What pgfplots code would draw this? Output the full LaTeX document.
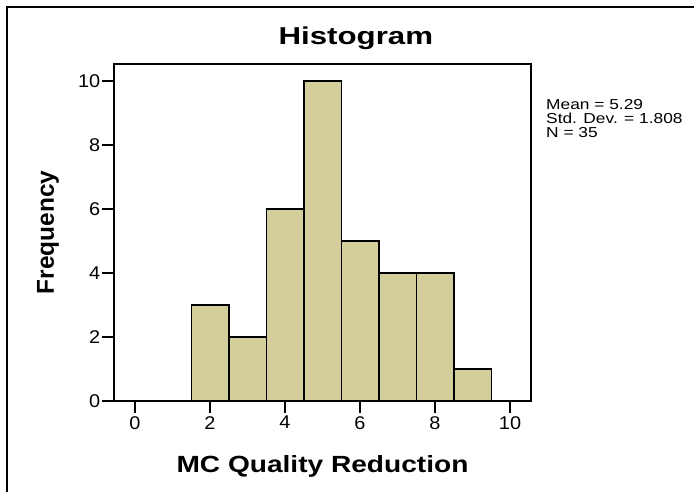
\documentclass[border=0pt]{standalone}
\usepackage{fontspec}
\setmainfont{Liberation Sans}
\newfontfamily\titlefont[FakeStretch=1.28]{Liberation Sans}
\newfontfamily\xlabfont[FakeStretch=1.2]{Liberation Sans}
\newfontfamily\tickfont[FakeStretch=1.08]{Liberation Sans}
\newfontfamily\statfont[FakeStretch=1.2]{Liberation Sans}
\usepackage{pgfplots}
\pgfplotsset{compat=1.18}
\definecolor{barfill}{RGB}{211,206,155}
\tikzset{stat/.style={anchor=base west, inner sep=0pt, text height=10.5bp, text depth=2bp,
  font=\statfont\fontsize{14.5}{16}\selectfont}}

\begin{document}
\begin{tikzpicture}
\useasboundingbox (0,0) rectangle (694bp,492bp);
% outer frame (left and top only)
\draw[line width=2bp] (7bp,0) -- (7bp,485bp) -- (694bp,485bp);

\begin{axis}[
  at={(114bp,91bp)}, anchor=south west,
  scale only axis, width=417bp, height=337bp,
  xmin=-0.56, xmax=10.56, ymin=0, ymax=10.53,
  xtick={0,2,...,10}, ytick={0,2,...,10},
  xtick pos=bottom, ytick pos=left,
  tick align=outside, major tick length=12bp,
  tick style={line width=1.8bp, black},
  axis line style={line width=1.8bp},
  /pgf/number format/assume math mode=true,
  ticklabel style={font=\tickfont\fontsize{18.5}{20}\selectfont},
  yticklabel style={inner sep=1.5bp},
  xticklabel style={inner sep=3bp},
  title={Histogram},
  title style={at={(axis description cs:0.580,1.0415)}, anchor=base,
    font=\titlefont\bfseries\fontsize{24.5}{27}\selectfont},
  xlabel={MC Quality Reduction},
  xlabel style={at={(axis description cs:0.5,-0.2107)}, anchor=base,
    font=\xlabfont\bfseries\fontsize{23.5}{26}\selectfont},
  ylabel={Frequency},
  ylabel style={at={(axis description cs:-0.158,0.5)}, anchor=center,
    font=\bfseries\fontsize{24.5}{27}\selectfont},
]
\addplot[ybar, bar width=1, bar shift=0pt, fill=barfill, draw=black, line width=1.5bp]
  coordinates {(2,3) (3,2) (4,6) (5,10) (6,5) (7,4) (8,4) (9,1)};
\end{axis}

\node[stat] at (546bp,382bp) {Mean = 5.29};
\node[stat] at (546bp,368bp) {Std. Dev. = 1.808};
\node[stat] at (546bp,354bp) {N = 35};
\end{tikzpicture}
\end{document}
